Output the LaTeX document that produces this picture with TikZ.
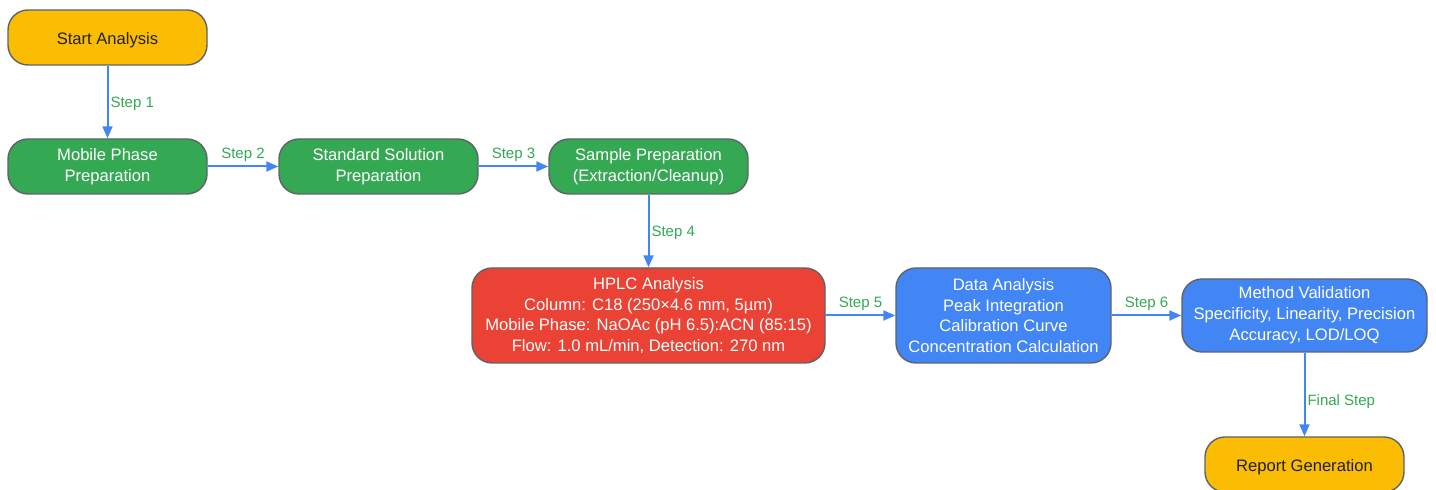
\documentclass[tikz,border=0pt]{standalone}
\usepackage{fontspec}
\setmainfont{Liberation Sans}
\usepackage{tikz}
\usetikzlibrary{arrows.meta}

\definecolor{gOrange}{HTML}{FBBC04}
\definecolor{gGreen}{HTML}{34A853}
\definecolor{gRed}{HTML}{EA4335}
\definecolor{gBlue}{HTML}{4285F4}
\definecolor{boxLine}{HTML}{5F6368}
\definecolor{darkText}{HTML}{202124}

\begin{document}
\begin{tikzpicture}[x=0.5pt, y=-0.5pt,
    box/.style={draw=boxLine, line width=0.7pt, rounded corners=10pt, align=center,
        inner sep=0pt, minimum width=99.5pt, minimum height=27.5pt,
        font=\fontsize{8.3}{10.4}\selectfont, execute at begin node={\rule{0pt}{8.8pt}}},
    link/.style={draw=gBlue, line width=1pt, -{Triangle[length=6pt, width=5pt]}},
    steplbl/.style={text=gGreen, font=\fontsize{7.5}{9}\selectfont}]
    \useasboundingbox (0,0) rectangle (1436,490);

    % Inicio
    \node[box, fill=gOrange, text=darkText] (start) at (107.5,37.5) {Start Analysis};

    % Preparacao
    \node[box, fill=gGreen, text=white] (mobile) at (107.5,166.5) {Mobile Phase\\Preparation};
    \node[box, fill=gGreen, text=white] (standard) at (378.5,166.5) {Standard Solution\\Preparation};
    \node[box, fill=gGreen, text=white] (sample) at (648.5,166.5) {Sample Preparation\\(Extraction/Cleanup)};

    % Analise
    \node[box, fill=gRed, text=white, minimum width=176.5pt, minimum height=47.5pt] (hplc) at (648.5,315.5)
        {HPLC Analysis\\Column: C18 (250×4.6 mm, 5µm)\\Mobile Phase: NaOAc (pH 6.5):ACN (85:15)\\Flow: 1.0 mL/min, Detection: 270 nm};
    \node[box, fill=gBlue, text=white, minimum width=107.5pt, minimum height=47.5pt] (data) at (1003.5,315.5)
        {Data Analysis\\Peak Integration\\Calibration Curve\\Concentration Calculation};
    \node[box, fill=gBlue, text=white, minimum width=122.5pt, minimum height=36.5pt] (valid) at (1304.5,315.5)
        {Method Validation\\Specificity, Linearity, Precision\\Accuracy, LOD/LOQ};

    % Fim
    \node[box, fill=gOrange, text=darkText] (report) at (1304.5,464.5) {Report Generation};

    % Ligacoes
    \draw[link] (start) -- node[steplbl, anchor=west, inner sep=1pt, yshift=-1pt] {Step 1} (mobile);
    \draw[link] (mobile) -- node[steplbl, above, inner sep=2pt] {Step 2} (standard);
    \draw[link] (standard) -- node[steplbl, above, inner sep=2pt] {Step 3} (sample);
    \draw[link] (sample) -- node[steplbl, anchor=west, inner sep=1pt, yshift=-1pt] {Step 4} (hplc);
    \draw[link] (hplc) -- node[steplbl, above, inner sep=2pt] {Step 5} (data);
    \draw[link] (data) -- node[steplbl, above, inner sep=2pt] {Step 6} (valid);
    \draw[link] (valid) -- node[steplbl, anchor=west, inner sep=1pt, pos=0.56, yshift=-1pt] {Final Step} (report);
\end{tikzpicture}
\end{document}
